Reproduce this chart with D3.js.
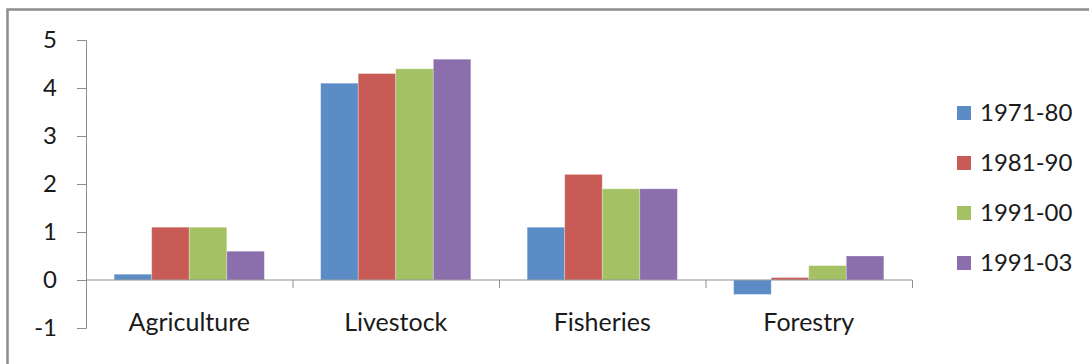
<!DOCTYPE html>
<head>
    <meta charset="utf-8">
    <title>Growth by sector</title>
    <script src="https://d3js.org/d3.v7.min.js"></script>
    <style>
        body {
            margin: 0;
            background-color: #ffffff;
        }
        text {
            font-family: Lato, "Liberation Sans", Arial, sans-serif;
            fill: #1a1a1a;
        }
    </style>
</head>

<body>
    <div class="container"></div>
    <script>
        const categories = ['Agriculture', 'Livestock', 'Fisheries', 'Forestry'];
        const periods = ['1971-80', '1981-90', '1991-00', '1991-03'];
        const agriculture = [0.12, 1.1, 1.1, 0.6];
        const livestock = [4.1, 4.3, 4.4, 4.6];
        const fisheries = [1.1, 2.2, 1.9, 1.9];
        const forestry = [-0.3, 0.05, 0.3, 0.5];
        const yTicks = [-1, 0, 1, 2, 3, 4, 5];
        const colors = ['#5b8cc6', '#c95b56', '#a4c263', '#8b6fac'];

        const valuesByCategory = [agriculture, livestock, fisheries, forestry];

        const width = 1089;
        const height = 364;
        const margin = { top: 40, right: 177, bottom: 36, left: 86 };

        const svg = d3.select('.container').append('svg')
            .attr('width', width)
            .attr('height', height);

        svg.append('rect')
            .attr('width', width)
            .attr('height', height)
            .attr('fill', '#ffffff');

        // frame (only top and left edges are visible in the crop)
        svg.append('path')
            .attr('d', `M7.5,${height} V9.5 H${width}`)
            .attr('fill', 'none')
            .attr('stroke', '#8c8c8c')
            .attr('stroke-width', 2.5);

        const x0 = d3.scaleBand()
            .domain(categories)
            .range([margin.left, width - margin.right]);

        const x1 = d3.scaleBand()
            .domain(periods)
            .range([0, x0.bandwidth()])
            .paddingInner(0)
            .paddingOuter(0.75);

        const y = d3.scaleLinear()
            .domain([-1, 5])
            .range([height - margin.bottom, margin.top]);

        const color = d3.scaleOrdinal()
            .domain(periods)
            .range(colors);

        const groups = svg.append('g')
            .selectAll('g')
            .data(categories)
            .join('g')
            .attr('transform', d => `translate(${x0(d)},0)`);

        groups.selectAll('rect')
            .data((d, i) => periods.map((p, j) => ({ period: p, value: valuesByCategory[i][j] })))
            .join('rect')
            .attr('x', d => x1(d.period))
            .attr('width', x1.bandwidth())
            .attr('y', d => y(Math.max(0, d.value)))
            .attr('height', d => Math.abs(y(d.value) - y(0)))
            .attr('fill', d => color(d.period))
            .attr('stroke', 'rgba(255,255,255,0.35)')
            .attr('stroke-width', 0.8);

        // y axis
        const yAxis = svg.append('g')
            .attr('transform', `translate(${margin.left},0)`)
            .call(d3.axisLeft(y).tickValues(yTicks).tickSize(9).tickPadding(20).tickFormat(d => String(d)));
        yAxis.select('.domain').attr('stroke', '#8e8e8e');
        yAxis.selectAll('.tick line').attr('stroke', '#8e8e8e');
        yAxis.selectAll('.tick text')
            .attr('font-size', 24)
            .attr('font-family', 'Lato, "Liberation Sans", Arial, sans-serif')
            .attr('fill', '#1a1a1a');

        // x axis on the zero line
        const xAxis = svg.append('g')
            .attr('transform', `translate(0,${y(0)})`);
        xAxis.append('line')
            .attr('x1', margin.left)
            .attr('x2', width - margin.right)
            .attr('stroke', '#8e8e8e');
        xAxis.selectAll('.cat-tick')
            .data(categories)
            .join('line')
            .attr('class', 'cat-tick')
            .attr('x1', d => x0(d) + x0.bandwidth() + 0.5)
            .attr('x2', d => x0(d) + x0.bandwidth() + 0.5)
            .attr('y1', 0)
            .attr('y2', 8)
            .attr('stroke', '#8e8e8e');

        svg.append('g')
            .selectAll('text')
            .data(categories)
            .join('text')
            .attr('x', d => x0(d) + x0.bandwidth() / 2)
            .attr('y', y(-1) + 3)
            .attr('text-anchor', 'middle')
            .attr('font-size', 25)
            .text(d => d);

        // legend
        const legend = svg.append('g')
            .selectAll('g')
            .data(periods)
            .join('g')
            .attr('transform', (d, i) => `translate(957,${113 + i * 50})`);

        legend.append('rect')
            .attr('x', 0)
            .attr('y', -7)
            .attr('width', 14)
            .attr('height', 14)
            .attr('fill', d => color(d));

        legend.append('text')
            .attr('x', 23)
            .attr('y', 0)
            .attr('dy', '0.35em')
            .attr('font-size', 24)
            .text(d => d);
    </script>
</body>

</html>
